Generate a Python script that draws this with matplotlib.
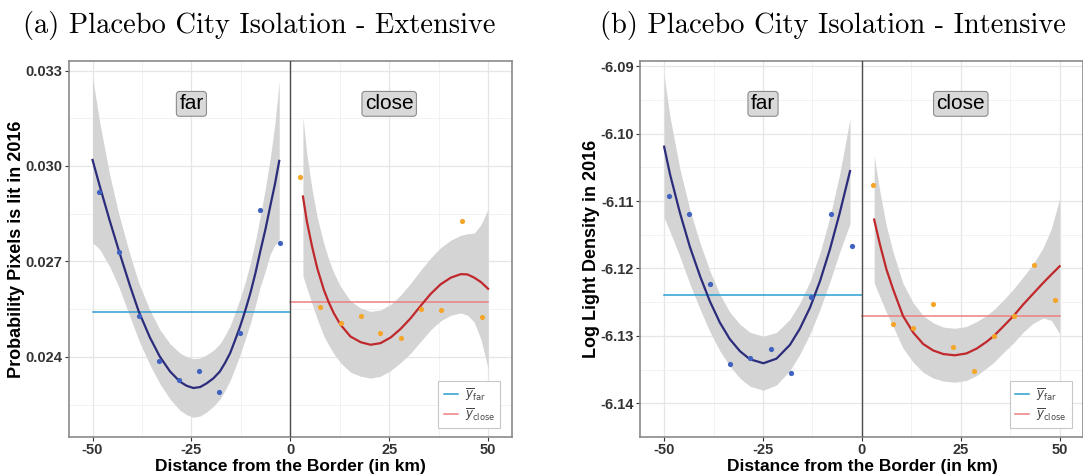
import numpy as np
import matplotlib
matplotlib.use("Agg")
import matplotlib.pyplot as plt
from matplotlib.lines import Line2D

plt.rcParams['font.family'] = ['Liberation Sans', 'DejaVu Sans']

# ---- panel (a): extensive margin ----
a_far_x = [-48.4, -43.4, -38.3, -33.2, -28.2, -23.0, -17.9, -12.8, -7.7, -2.7]
a_far_y = [0.02919, 0.02728, 0.02527, 0.02387, 0.02328, 0.02357, 0.02291, 0.02474, 0.02862, 0.02759]
a_close_x = [2.5, 7.6, 12.7, 17.8, 22.8, 27.9, 33.0, 38.2, 43.3, 48.4]
a_close_y = [0.02964, 0.02556, 0.02506, 0.02527, 0.02476, 0.02458, 0.02551, 0.02548, 0.02827, 0.02524]

a_far_fit_x = [-50, -48.2, -45.7, -43.4, -40.6, -38.3, -35.5, -33.0, -30.4, -27.9, -26.2,
               -24.5, -22.8, -21.1, -19.4, -17.8, -16.5, -15.2, -14.0, -12.7, -11.4, -10.1,
               -8.8, -7.6, -6.3, -5.1, -3.9, -2.8]
a_far_fit_y = [0.03019, 0.02938, 0.02830, 0.02736, 0.02626, 0.02542, 0.02461, 0.02401, 0.02354, 0.02322, 0.02309,
               0.02302, 0.02305, 0.02317, 0.02333, 0.02354, 0.02381, 0.02412, 0.02451, 0.02495, 0.02545, 0.02600,
               0.02664, 0.02731, 0.02800, 0.02872, 0.02942, 0.03016]
a_far_se = [0.0026, 0.0020, 0.00145, 0.00115, 0.00098, 0.0009, 0.00086, 0.00085, 0.00087, 0.0009, 0.00091,
            0.00092, 0.00091, 0.0009, 0.00088, 0.00087, 0.00086, 0.00086, 0.00087, 0.00088, 0.0009, 0.00095,
            0.00102, 0.0011, 0.0013, 0.0015, 0.0019, 0.0025]

a_close_fit_x = [3.2, 4.2, 5.5, 6.8, 8.5, 9.7, 11.0, 12.7, 15.2, 17.8, 20.3, 22.8,
                 25.4, 27.9, 30.4, 33.0, 35.5, 38.0, 40.6, 43.1, 44.8, 46.5, 48.2, 50.0]
a_close_fit_y = [0.02904, 0.02825, 0.02747, 0.02679, 0.02610, 0.02572, 0.02537, 0.02501, 0.02464, 0.02446,
                 0.02438, 0.02443, 0.02461, 0.02488, 0.02521, 0.02561, 0.02598, 0.02628, 0.02649, 0.02660,
                 0.02659, 0.02649, 0.02635, 0.02614]
a_close_se = [0.0025, 0.0021, 0.0018, 0.0016, 0.00145, 0.00135, 0.00127, 0.0012, 0.00112, 0.00107,
              0.00105, 0.00104, 0.00104, 0.00106, 0.0011, 0.00112, 0.00113, 0.00115, 0.00118, 0.00122,
              0.00128, 0.0014, 0.0018, 0.0025]

a_mean_far = 0.02540
a_mean_close = 0.02572
a_yticks = [0.024, 0.027, 0.030, 0.033]
a_yticklabels = ['0.024', '0.027', '0.030', '0.033']
a_ylim = (0.02148, 0.03330)

# ---- panel (b): intensive margin ----
b_far_x = [-48.7, -43.6, -38.4, -33.4, -28.3, -23.1, -17.9, -12.8, -7.7, -2.6]
b_far_y = [-6.10927, -6.11185, -6.1223, -6.13415, -6.13324, -6.13198, -6.13555, -6.1242, -6.11185, -6.11673]
b_close_x = [2.7, 7.8, 12.8, 18.0, 23.1, 28.3, 33.4, 38.4, 43.5, 48.8]
b_close_y = [-6.10769, -6.12818, -6.12886, -6.12533, -6.13166, -6.13514, -6.12999, -6.127, -6.11949, -6.12474]

b_far_fit_x = [-50.0, -48.5, -46.0, -43.5, -40.9, -38.4, -35.9, -33.4, -30.8, -28.3,
               -24.9, -21.6, -18.2, -15.7, -13.1, -10.6, -8.1, -5.6, -3.0]
b_far_fit_y = [-6.10194, -6.10606, -6.11176, -6.11678, -6.12117, -6.12492, -6.12804, -6.13048, -6.13229, -6.13347,
               -6.13406, -6.13338, -6.13134, -6.12895, -6.12578, -6.12189, -6.11719, -6.11176, -6.10556]
b_far_se = [0.0105, 0.0085, 0.0065, 0.0055, 0.0049, 0.0045, 0.0042, 0.0040, 0.0040, 0.0040,
            0.0040, 0.0039, 0.0038, 0.0038, 0.0039, 0.0042, 0.0048, 0.0058, 0.0078]

b_close_fit_x = [3.1, 4.55, 6.2, 7.9, 10.4, 13.0, 15.5, 18.0, 20.6, 23.5, 26.4,
                 29.0, 31.5, 33.4, 35.7, 38.4, 40.8, 43.3, 45.8, 47.9, 50.0]
b_close_fit_y = [-6.11275, -6.11642, -6.12013, -6.12311, -6.12705, -6.12953, -6.13121, -6.13216, -6.1327,
                 -6.13288, -6.13261, -6.13189, -6.13089, -6.12999, -6.12863, -6.127, -6.12533, -6.12374,
                 -6.12216, -6.1209, -6.11967]
b_close_se = [0.0094, 0.0078, 0.0064, 0.0055, 0.0048, 0.0044, 0.0042, 0.0041, 0.004, 0.004, 0.004,
              0.004, 0.0039, 0.0039, 0.0039, 0.004, 0.0041, 0.0044, 0.0052, 0.0068, 0.0100]

b_mean_far = -6.12397
b_mean_close = -6.12705
b_yticks = [-6.14, -6.13, -6.12, -6.11, -6.10, -6.09]
b_yticklabels = ['-6.14', '-6.13', '-6.12', '-6.11', '-6.10', '-6.09']
b_ylim = (-6.14027, -6.08923)

xticks = [-50, -25, 0, 25, 50]
xticklabels = ['-50', '-25', '0', '25', '50']

# colours
FAR_PT = '#3f62c0'
CLOSE_PT = '#f5a52a'
FAR_LINE = '#2b2c7c'
CLOSE_LINE = '#c0282b'
MEAN_FAR = '#2a9fd0'
MEAN_CLOSE = '#ef8080'
BAND = '#d4d4d4'


def draw_panel(ax, far_x, far_y, close_x, close_y,
               far_fx, far_fy, far_se, close_fx, close_fy, close_se,
               mean_far, mean_close, yticks, yticklabels, ylim):
    far_fx = np.array(far_fx)
    far_fy = np.array(far_fy)
    far_se = np.array(far_se)
    close_fx = np.array(close_fx)
    close_fy = np.array(close_fy)
    close_se = np.array(close_se)

    # confidence ribbons
    ax.fill_between(far_fx, far_fy - far_se, far_fy + far_se, color=BAND, lw=0, zorder=2)
    ax.fill_between(close_fx, close_fy - close_se, close_fy + close_se, color=BAND, lw=0, zorder=2)

    # side means
    ax.plot([-50, 0], [mean_far, mean_far], color=MEAN_FAR, lw=1.1, zorder=3)
    ax.plot([0, 50], [mean_close, mean_close], color=MEAN_CLOSE, lw=1.1, zorder=3)

    # fitted curves
    ax.plot(far_fx, far_fy, color=FAR_LINE, lw=1.6, zorder=4, solid_joinstyle='round')
    ax.plot(close_fx, close_fy, color=CLOSE_LINE, lw=1.6, zorder=4, solid_joinstyle='round')

    ax.scatter(far_x, far_y, s=14, color=FAR_PT, lw=0, zorder=5)
    ax.scatter(close_x, close_y, s=14, color=CLOSE_PT, lw=0, zorder=5)

    ax.axvline(0, color='#4d4d4d', lw=1.0, zorder=3)

    ax.set_xlim(-56, 56)
    ax.set_ylim(*ylim)
    ax.set_xticks(xticks)
    ax.set_xticklabels(xticklabels)
    ax.set_yticks(yticks)
    ax.set_yticklabels(yticklabels)
    ax.set_xticks([-37.5, -12.5, 12.5, 37.5], minor=True)
    ystep = yticks[1] - yticks[0]
    ax.set_yticks([t + ystep / 2 for t in yticks[:-1]] + [yticks[0] - ystep / 2], minor=True)
    ax.grid(True, which='major', color='#e6e6e6', lw=0.9, zorder=0)
    ax.grid(True, which='minor', color='#f0f0f0', lw=0.6, zorder=0)
    ax.set_axisbelow(True)
    ax.tick_params(which='major', length=3, width=0.8, color='#333333', pad=1.5,
                   labelsize=10.5, labelcolor='#333333')
    ax.tick_params(which='minor', length=0)
    for lab in ax.get_xticklabels() + ax.get_yticklabels():
        lab.set_fontweight('bold')
    for sp in ax.spines.values():
        sp.set_color('#8a8a8a')
        sp.set_linewidth(1.2)

    box = dict(boxstyle='round,pad=0.14,rounding_size=0.15', fc='#d9d9d9', ec='#8c8c8c', lw=0.8)
    ax.text(-25, 0.886, 'far', transform=ax.get_xaxis_transform(), ha='center', va='center',
            fontsize=15, bbox=box, zorder=6)
    ax.text(25, 0.886, 'close', transform=ax.get_xaxis_transform(), ha='center', va='center',
            fontsize=15, bbox=box, zorder=6)

    handles = [Line2D([], [], color=MEAN_FAR, lw=1.1),
               Line2D([], [], color=MEAN_CLOSE, lw=1.1)]
    labels = [r'$\overline{y}_{\mathrm{far}}$', r'$\overline{y}_{\mathrm{close}}$']
    leg = ax.legend(handles, labels, loc='lower right', bbox_to_anchor=(0.974, 0.024),
                    borderaxespad=0, fontsize=8.5, handlelength=1.2, handletextpad=0.6,
                    labelspacing=0.25, borderpad=0.45, fancybox=False, framealpha=1,
                    edgecolor='#c8c8c8')
    leg.get_frame().set_linewidth(0.8)
    for t in leg.get_texts():
        t.set_color('#444444')


fig = plt.figure(figsize=(10.83, 4.76), dpi=100)
W, H = 1083.0, 476.0
ax_a = fig.add_axes([68.8 / W, 39 / H, 443 / W, 376 / H])
ax_b = fig.add_axes([640.4 / W, 39 / H, 443 / W, 376 / H])

draw_panel(ax_a, a_far_x, a_far_y, a_close_x, a_close_y,
           a_far_fit_x, a_far_fit_y, a_far_se, a_close_fit_x, a_close_fit_y, a_close_se,
           a_mean_far, a_mean_close, a_yticks, a_yticklabels, a_ylim)
draw_panel(ax_b, b_far_x, b_far_y, b_close_x, b_close_y,
           b_far_fit_x, b_far_fit_y, b_far_se, b_close_fit_x, b_close_fit_y, b_close_se,
           b_mean_far, b_mean_close, b_yticks, b_yticklabels, b_ylim)

# axis titles
fig.text(16.5 / W, 1 - 249 / H, 'Probability Pixels is lit in 2016', rotation=90,
         ha='center', va='center', fontsize=13, fontweight='bold')
fig.text(592 / W, 1 - 249 / H, 'Log Light Density in 2016', rotation=90,
         ha='center', va='center', fontsize=13, fontweight='bold')
fig.text(290.3 / W, 1 - 467 / H, 'Distance from the Border (in km)',
         ha='center', va='center', fontsize=12.5, fontweight='bold')
fig.text(862 / W, 1 - 467 / H, 'Distance from the Border (in km)',
         ha='center', va='center', fontsize=12.5, fontweight='bold')

# sub-figure captions
fig.text(259 / W, 1 - 33 / H, '(a) Placebo City Isolation - Extensive',
         family='cmr10', fontsize=20.5, ha='center', va='baseline')
fig.text(833 / W, 1 - 33 / H, '(b) Placebo City Isolation - Intensive',
         family='cmr10', fontsize=20.5, ha='center', va='baseline')

fig.savefig('out.png', dpi=100)
